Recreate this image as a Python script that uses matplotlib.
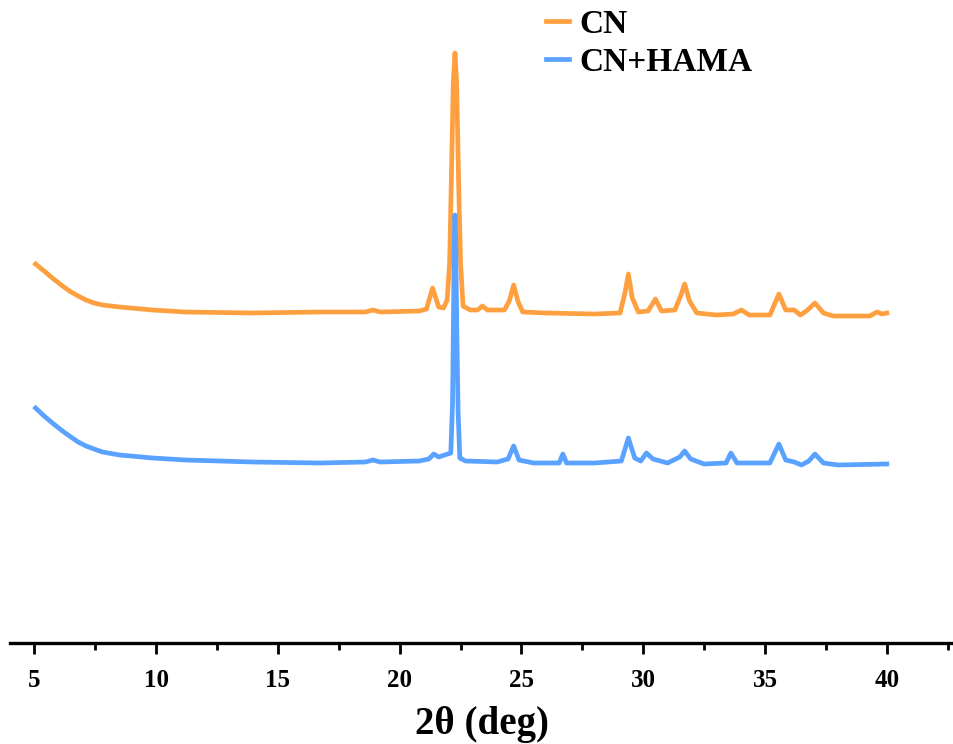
import matplotlib
matplotlib.use("Agg")
import matplotlib.pyplot as plt
from matplotlib.ticker import MultipleLocator

plt.rcParams['font.family'] = ['Liberation Serif', 'DejaVu Serif']
plt.rcParams['font.weight'] = 'bold'

# 2theta (deg) and intensity (a.u., offset for stacking)
cn_x = [5.05, 5.4, 5.74, 6.1, 6.44, 6.8, 7.12, 7.45, 7.8, 8.5, 9.85, 11.2, 13.96, 16.7,
        18.6, 18.9, 19.2, 20.8, 21.1, 21.35, 21.6, 21.8, 21.95, 22.05, 22.12, 22.2,
        22.27, 22.34, 22.42, 22.5, 22.6, 22.9, 23.2, 23.4, 23.6, 24.3, 24.5, 24.68,
        24.85, 25.05, 26.0, 28.0, 29.05, 29.25, 29.39, 29.55, 29.8, 30.2, 30.5, 30.75,
        31.3, 31.55, 31.7, 31.9, 32.2, 33.0, 33.7, 34.03, 34.35, 35.2, 35.57, 35.85,
        36.2, 36.45, 36.7, 37.05, 37.4, 37.8, 38.5, 39.3, 39.6, 39.8, 40.0]
cn_y = [379, 372, 365, 358, 352, 347, 343, 340, 338, 336, 333, 331, 330, 331,
        331, 333, 331, 332, 334, 355, 336, 335, 343, 380, 461, 560,
        590, 560, 461, 380, 337, 333, 333, 337, 333, 333, 342, 358,
        342, 331, 330, 329, 330, 350, 369, 345, 331, 332, 344, 332,
        333, 348, 359, 342, 330, 328, 329, 333, 328, 328, 349, 333,
        333, 328, 332, 340, 330, 327, 327, 327, 331, 329, 330]

hama_x = [5.05, 5.4, 5.74, 6.1, 6.44, 6.8, 7.12, 7.45, 7.8, 8.5, 9.85, 11.2, 13.96, 16.7,
          18.6, 18.9, 19.2, 20.8, 21.2, 21.4, 21.6, 21.85, 22.1, 22.17, 22.2, 22.24,
          22.27, 22.3, 22.35, 22.4, 22.47, 22.7, 24.0, 24.45, 24.68, 24.9, 25.5, 26.55,
          26.7, 26.85, 28.0, 29.1, 29.39, 29.65, 29.9, 30.13, 30.4, 31.0, 31.5, 31.7,
          31.95, 32.5, 33.4, 33.6, 33.85, 35.2, 35.57, 35.85, 36.2, 36.5, 36.8, 37.05,
          37.4, 38.0, 40.0]
hama_y = [235, 227, 220, 213, 207, 201, 197, 194, 191, 188, 185, 183, 181, 180,
          181, 183, 181, 182, 184, 189, 186, 188, 190, 240, 305, 400,
          428, 400, 305, 230, 185, 182, 181, 184, 197, 183, 180, 180,
          189, 180, 180, 182, 205, 185, 182, 190, 184, 180, 186, 192,
          184, 179, 180, 190, 180, 180, 199, 183, 181, 178, 182, 189,
          180, 178, 179]

x_ticks = [5, 10, 15, 20, 25, 30, 35, 40]

fig = plt.figure(figsize=(9.54, 7.44), dpi=100)
ax = fig.add_axes([10 / 954, 101 / 744, 944 / 954, 643 / 744])

ax.plot(cn_x, cn_y, color='#FFA040', lw=3.4, label='CN', solid_joinstyle='round')
ax.plot(hama_x, hama_y, color='#5AA2FF', lw=3.4, label='CN+HAMA', solid_joinstyle='round')

ax.set_xlim(4, 42.76)
ax.set_ylim(0, 643)

for side in ['top', 'left', 'right']:
    ax.spines[side].set_visible(False)
ax.spines['bottom'].set_linewidth(2.4)

ax.set_xticks(x_ticks)
ax.xaxis.set_minor_locator(MultipleLocator(2.5))
ax.tick_params(axis='x', which='major', length=8, width=2, labelsize=18, pad=11)
ax.tick_params(axis='x', which='minor', length=5, width=2)
ax.set_yticks([])
ax.set_xlabel('2θ (deg)', fontsize=28, fontweight='bold', labelpad=10)

ax.legend(loc='upper left', bbox_to_anchor=(511 / 954, 1.033), frameon=False,
          fontsize=24, handlelength=0.7, handletextpad=0.3, labelspacing=0.22)

fig.savefig('out.png', dpi=100)
